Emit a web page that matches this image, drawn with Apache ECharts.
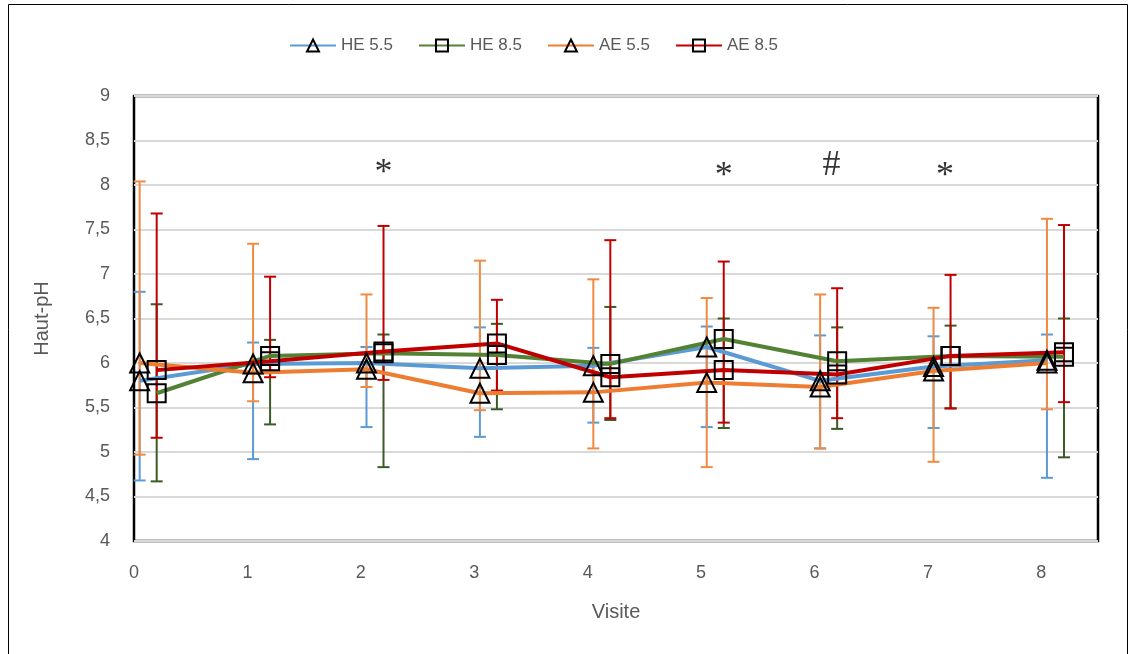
<!DOCTYPE html>
<html>
<head>
<meta charset="utf-8">
<script src="https://cdn.jsdelivr.net/npm/echarts@6/dist/echarts.min.js"></script>
<style>
  html, body { margin: 0; padding: 0; background: #fff; }
  #chart { width: 1134px; height: 654px; }
</style>
</head>
<body>
<div id="chart"></div>
<script>
// Visits (x axis) and mean skin pH per group
const visits = [0, 1, 2, 3, 4, 5, 6, 7, 8];
const seriesNames = ['HE 5.5', 'HE 8.5', 'AE 5.5', 'AE 8.5'];

const he55 = [5.80, 5.99, 6.00, 5.94, 5.97, 6.18, 5.80, 5.96, 6.03];
const he85 = [5.66, 6.08, 6.11, 6.09, 5.99, 6.27, 6.02, 6.08, 6.07];
const ae55 = [6.00, 5.89, 5.93, 5.66, 5.67, 5.78, 5.73, 5.91, 6.00];
const ae85 = [5.92, 6.02, 6.13, 6.22, 5.84, 5.92, 5.87, 6.08, 6.12];

// Error bar ends (lower / upper) per group
const he55Low  = [4.68, 4.92, 5.28, 5.17, 5.33, 5.28, 5.04, 5.27, 4.71];
const he55High = [6.80, 6.23, 6.18, 6.40, 6.17, 6.41, 6.31, 6.30, 6.32];
const he85Low  = [4.67, 5.31, 4.83, 5.48, 5.36, 5.27, 5.26, 5.49, 4.94];
const he85High = [6.66, 6.26, 6.32, 6.44, 6.63, 6.50, 6.40, 6.42, 6.50];
const ae55Low  = [4.97, 5.57, 5.73, 5.47, 5.04, 4.83, 5.04, 4.89, 5.48];
const ae55High = [8.04, 7.34, 6.77, 7.15, 6.94, 6.73, 6.77, 6.62, 7.62];
const ae85Low  = [5.16, 5.84, 5.81, 5.69, 5.38, 5.33, 5.38, 5.49, 5.56];
const ae85High = [7.68, 6.97, 7.54, 6.71, 7.38, 7.14, 6.84, 6.99, 7.55];

// Significance marks above the curves
const markVisit = [2.2, 5.2, 6.15, 7.15];
const markLevel = [8.13, 8.09, 8.22, 8.09];
const markText  = ['*', '*', '#', '*'];

// y axis ticks
const yTicks = [4, 4.5, 5, 5.5, 6, 6.5, 7, 7.5, 8, 8.5, 9];

// Horizontal shift of each group so markers do not sit on top of each other
const SHIFT_55 = 0.05;
const SHIFT_85 = 0.2;

const groups = [
  { name: seriesNames[0], vals: he55, lo: he55Low, hi: he55High, shift: SHIFT_55, symbol: 'triangle', line: '#5B9BD5', bar: '#5B9BD5' },
  { name: seriesNames[1], vals: he85, lo: he85Low, hi: he85High, shift: SHIFT_85, symbol: 'rect',     line: '#548235', bar: '#3B5A25' },
  { name: seriesNames[2], vals: ae55, lo: ae55Low, hi: ae55High, shift: SHIFT_55, symbol: 'triangle', line: '#ED7D31', bar: '#F08A42' },
  { name: seriesNames[3], vals: ae85, lo: ae85Low, hi: ae85High, shift: SHIFT_85, symbol: 'rect',     line: '#C00000', bar: '#C00000' }
];

const fontSans = '"Liberation Sans", "DejaVu Sans", sans-serif';

const series = [];

// error bars
groups.forEach(g => {
  series.push({
    type: 'custom',
    name: g.name + ' range',
    z: 2,
    silent: true,
    data: visits.map((v, i) => [v + g.shift, g.lo[i], g.hi[i]]),
    renderItem: function (params, api) {
      const x = api.value(0);
      const top = api.coord([x, api.value(2)]);
      const bot = api.coord([x, api.value(1)]);
      const cap = 6;
      const style = { stroke: g.bar, lineWidth: 2, fill: null };
      return {
        type: 'group',
        children: [
          { type: 'line', shape: { x1: top[0], y1: top[1], x2: bot[0], y2: bot[1] }, style },
          { type: 'line', shape: { x1: top[0] - cap, y1: top[1], x2: top[0] + cap, y2: top[1] }, style },
          { type: 'line', shape: { x1: bot[0] - cap, y1: bot[1], x2: bot[0] + cap, y2: bot[1] }, style }
        ]
      };
    }
  });
});

// mean curves with markers
groups.forEach(g => {
  series.push({
    type: 'line',
    name: g.name,
    z: 3,
    data: visits.map((v, i) => [v + g.shift, g.vals[i]]),
    symbol: g.symbol,
    symbolSize: g.symbol === 'rect' ? 18 : 19,
    showAllSymbol: true,
    lineStyle: { color: g.line, width: 4 },
    itemStyle: { color: 'rgba(255,255,255,0)', borderColor: '#000', borderWidth: 2 },
    emphasis: { disabled: true }
  });
});

// significance marks
series.push({
  type: 'scatter',
  name: 'marks',
  z: 4,
  silent: true,
  symbolSize: 1,
  itemStyle: { color: 'rgba(0,0,0,0)' },
  data: markVisit.map((x, i) => ({ value: [x, markLevel[i]], label: { formatter: markText[i] } })),
  label: {
    show: true,
    position: 'inside',
    fontFamily: '"Liberation Serif", "DejaVu Serif", serif',
    fontSize: 36,
    color: '#000'
  }
});

const chart = echarts.init(document.getElementById('chart'), null, { renderer: 'canvas' });
chart.setOption({
  animation: false,
  backgroundColor: '#fff',
  graphic: [{
    type: 'rect',
    shape: { x: 8.5, y: 4.5, width: 1119, height: 700 },
    style: { fill: null, stroke: '#000', lineWidth: 1 },
    silent: true
  }],
  legend: {
    data: seriesNames,
    left: 284,
    top: 32,
    itemWidth: 46,
    itemHeight: 15,
    itemGap: 25,
    textStyle: { fontFamily: fontSans, fontSize: 17, color: '#595959' }
  },
  grid: {
    left: 134, right: 36, top: 96, bottom: 113,
    show: true,
    borderColor: '#000',
    borderWidth: 2.5,
    containLabel: false
  },
  xAxis: {
    type: 'value',
    min: 0,
    max: 8.5,
    interval: 1,
    name: 'Visite',
    nameLocation: 'middle',
    nameGap: 61,
    nameTextStyle: { fontFamily: fontSans, fontSize: 20, color: '#595959' },
    axisLine: { show: false },
    axisTick: { show: false },
    splitLine: { show: false },
    axisLabel: {
      margin: 23,
      fontFamily: fontSans, fontSize: 18, color: '#595959',
      showMaxLabel: false,
      formatter: v => (Number.isInteger(v) ? String(v) : '')
    }
  },
  yAxis: {
    type: 'value',
    min: yTicks[0],
    max: yTicks[yTicks.length - 1],
    interval: 0.5,
    name: 'Haut-pH',
    nameLocation: 'middle',
    nameGap: 82,
    nameRotate: 90,
    nameTextStyle: { fontFamily: fontSans, fontSize: 20, color: '#595959' },
    axisLine: { show: false },
    axisTick: { show: false },
    splitLine: { show: true, lineStyle: { color: '#D9D9D9', width: 2 } },
    axisLabel: {
      margin: 24,
      fontFamily: fontSans, fontSize: 18, color: '#595959',
      formatter: v => String(v).replace('.', ',')
    }
  },
  series
});
</script>
</body>
</html>
